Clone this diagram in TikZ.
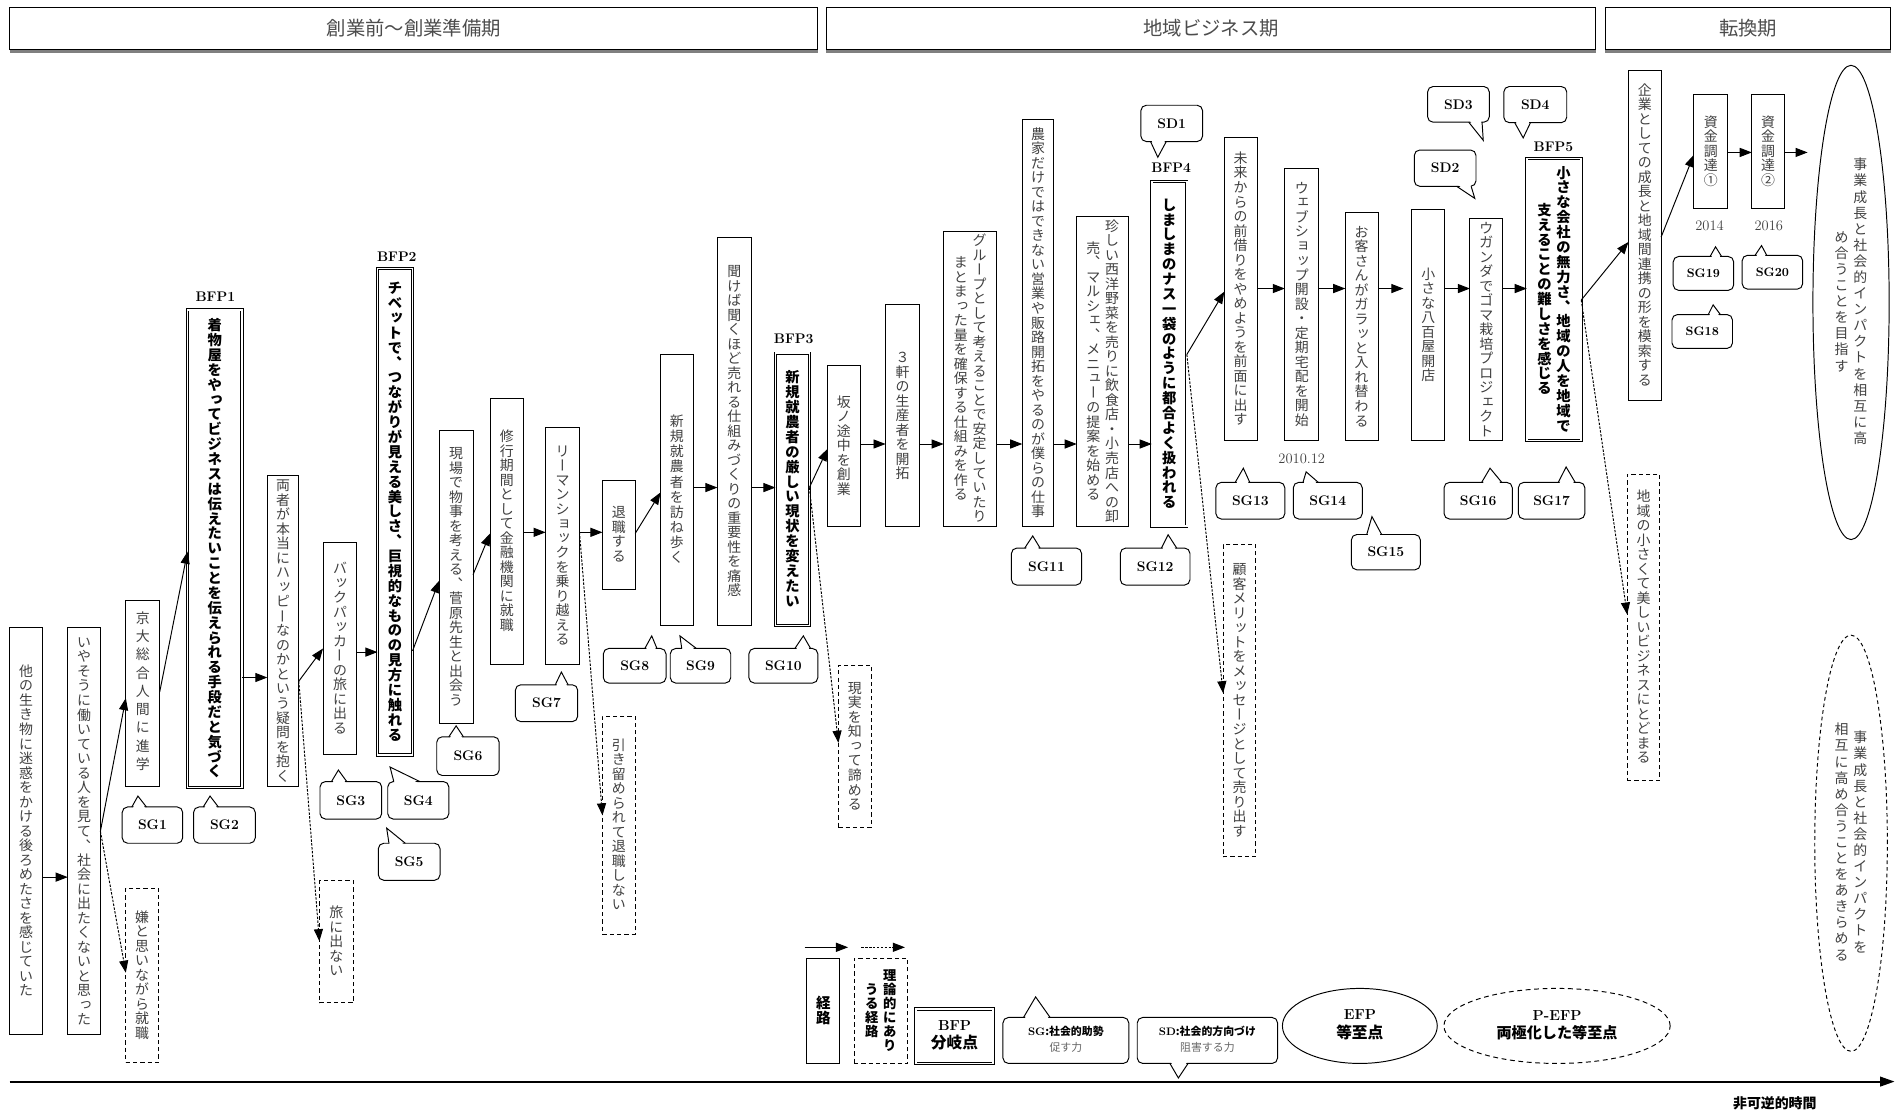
\documentclass[tikz,border=0pt]{standalone}
\usepackage{fontspec}
\usepackage{graphicx}
\usetikzlibrary{arrows.meta,shapes.geometric,calc}
\newfontfamily\jp{Noto Sans CJK JP}
\newfontfamily\tate{Noto Sans CJK JP}
\makeatletter
\newlength\vt@gap
\def\vt@end{\vt@end}
\def\vt@loop#1{\ifx#1\vt@end\else\vt@one{#1}\expandafter\vt@loop\fi}
\def\vt@one#1{\hbox to 1em{\vrule height .88em depth .12em width 0pt\vt@map{#1}}\kern\vt@gap}
\def\vt@bar{\raisebox{.88em}[.88em][.12em]{\rotatebox{-90}{\hbox to 1em{\vrule height .88em depth .12em width 0pt\smash{ー}\hss}}}}
\def\vt@comma{\rotatebox[origin=c]{180}{\hbox to 1em{\vrule height .88em depth .12em width 0pt 、\hss}}}
\def\vt@map#1{\ifx#1ー\vt@bar\else\ifx#1、\vt@comma\else\in@{#1}{ッっョょャゃュゅェぇィぃァぁォぉゥぅ}\ifin@\rlap{\kern.12em\raisebox{.12em}[0pt][0pt]{#1}}\hss\else\hss#1\hss\fi\fi\fi}
\newcommand\vcol[2]{\vbox{\tate\offinterlineskip\setlength\vt@gap{#1}\vt@loop#2\vt@end}}
\newcommand\vt[2][0.5pt]{\vcol{#1}{#2}}
\newcommand\vtt[3][0.5pt]{\hbox{$\vcenter{\vcol{#1}{#3}}$\kern4pt$\vcenter{\vcol{#1}{#2}}$}}
\makeatother
\tikzset{
 box/.style={draw, line width=0.8pt, rectangle, inner sep=0pt, outer sep=0pt, text=black!75, font=\fontsize{11.5}{15}\selectfont},
 bfp/.style={box, double, double distance=1.4pt, line width=0.6pt, text=black, font=\fontsize{11.8}{16}\selectfont\bfseries},
 dbox/.style={box, dash pattern=on 3.5pt off 2.5pt},
 hdr/.style={box, text=black!70, font=\fontsize{16}{18}\selectfont\jp},
 arr/.style={line width=0.8pt, -{Triangle[length=10pt,width=7.5pt]}},
 darr/.style={arr, dash pattern=on 2pt off 1.2pt},
 call/.style={draw, line width=0.8pt, rounded corners=4.5pt, fill=white, inner sep=0pt, font=\fontsize{11.5}{13}\selectfont\bfseries},
 lbl/.style={font=\fontsize{11.5}{13}\selectfont\bfseries, inner sep=0pt},
 yr/.style={font=\fontsize{12}{13}\selectfont, text=black!75, inner sep=0pt},
}
\newcommand\bx[7][box]{\node[#1, minimum width={(#5-#3)*1pt}, minimum height={(#6-#4)*1pt}] (#2) at ({(#3+#5)/2},{(#4+#6)/2}) {#7};}
\newcommand\sg[6]{\node[call, minimum width={(#4-#2)*1pt}, minimum height={(#5-#3)*1pt}] (#1) at ({(#2+#4)/2},{(#3+#5)/2}) {#6};}
\newcommand\ptr[5]{%
 \fill[white] ({#1+0.7},{#3+ifthenelse(#5<#3,1.6,-1.6)}) -- (#4,#5) -- ({#2-0.7},{#3+ifthenelse(#5<#3,1.6,-1.6)}) -- cycle;
 \draw[line width=0.8pt] (#1,#3) -- (#4,#5) -- (#2,#3);}
\begin{document}
\begin{tikzpicture}[x=1pt,y=-1pt]
\useasboundingbox (0,0) rectangle (1568,923);
% headers
\bx[hdr]{h1}{8}{6}{676}{41}{創業前〜創業準備期}
\bx[hdr]{h2}{683}{6}{1319}{41}{地域ビジネス期}
\bx[hdr]{h3}{1327}{6}{1563}{41}{転換期}
\foreach \h in {h1,h2,h3}{\draw[black!50, line width=2pt] ([yshift=-1.4pt]\h.south west) -- ([yshift=-1.4pt]\h.south east);}
% main boxes
\bx{a1}{8}{519}{35}{855}{\vt{他の生き物に迷惑をかける後ろめたさを感じていた}}
\bx{a2}{56}{519}{83}{855}{\vt{いやそうに働いている人を見て、社会に出たくないと思った}}
\bx{a3}{104}{496}{132}{650}{\vt[3.6pt]{京大総合人間に進学}}
\bx[bfp]{b1}{155}{256}{200}{651}{\vt{着物屋をやってビジネスは伝えたいことを伝えられる手段だと気づく}}
\bx{a5}{221}{393}{247}{650}{\vt{両者が本当にハッピーなのかという疑問を抱く}}
\bx{a6}{267}{448}{295}{624}{\vt{バックパッカーの旅に出る}}
\bx[bfp]{b2}{312}{222}{341}{624}{\vt{チベットで、つながりが見える美しさ、巨視的なものの見方に触れる}}
\bx{a8}{363}{356}{391}{598}{\vt{現場で物事を考える、菅原先生と出会う}}
\bx{a9}{405}{329}{433}{549}{\vt{修行期間として金融機関に就職}}
\bx{a10}{451}{353}{479}{549}{\vt{リーマンショックを乗り越える}}
\bx{a11}{498}{397}{525}{487}{\vt{退職する}}
\bx{a12}{546}{293}{573}{517}{\vt[1pt]{新規就農者を訪ね歩く}}
\bx{a13}{593}{196}{621}{517}{\vt{聞けば聞くほど売れる仕組みづくりの重要性を痛感}}
\bx[bfp]{b3}{641}{292}{669}{517}{\vt{新規就農者の厳しい現状を変えたい}}
\bx{a15}{684}{302}{711}{435}{\vt{坂ノ途中を創業}}
\bx{a16}{732}{252}{760}{435}{\vt{３軒の生産者を開拓}}
\bx{a17}{780}{191}{824}{435}{\vtt{グループとして考えることで安定していたり}{まとまった量を確保する仕組みを作る}}
\bx{a18}{845}{99}{871}{435}{\vt{農家だけではできない営業や販路開拓をやるのが僕らの仕事}}
\bx{a19}{890}{179}{933}{435}{\vtt{珍しい西洋野菜を売りに飲食店・小売店への卸}{売、マルシェ、メニューの提案を始める}}
\bx[bfp]{b4}{952}{150}{981}{435}{\vt{しましまのナス一袋のように都合よく扱われる}}
\bx{a21}{1012}{114}{1039}{364}{\vt{未来からの前借りをやめようを前面に出す}}
\bx{a22}{1062}{139}{1090}{364}{\vt{ウェブショップ開設・定期宅配を開始}}
\bx{a23}{1112}{176}{1139}{364}{\vt{お客さんがガラッと入れ替わる}}
\bx{a24}{1167}{173}{1194}{364}{\vt{小さな八百屋開店}}
\bx{a25}{1215}{181}{1242}{364}{\vt{ウガンダでゴマ栽培プロジェクト}}
\bx[bfp]{b5}{1262}{131}{1307}{364}{\vtt{小さな会社の無力さ、地域の人を地域で}{支えることの難しさを感じる}}
\bx{a27}{1346}{58}{1373}{331}{\vt{企業としての成長と地域間連携の形を模索する}}
\bx{a28}{1400}{78}{1428}{172}{\vt{資金調達①}}
\bx{a29}{1448}{78}{1475}{172}{\vt{資金調達②}}
\node[ellipse, draw, line width=0.8pt, inner sep=0pt, minimum width=63pt, minimum height=392pt, text=black!75, font=\fontsize{11.5}{16}\selectfont] (e1) at (1530,250) {\vtt[1.8pt]{事業成長と社会的インパクトを相互に高}{め合うことを目指す}};
\node[ellipse, draw, line width=0.8pt, dash pattern=on 3pt off 2.5pt, inner sep=0pt, minimum width=60pt, minimum height=344pt, text=black!75, font=\fontsize{11.5}{16}\selectfont] (e2) at (1530,697) {\vtt[1.8pt]{事業成長と社会的インパクトを}{相互に高め合うことをあきらめる}};
% dashed boxes
\bx[dbox]{d1}{104}{734}{131}{878}{\vt{嫌と思いながら就職}}
\bx[dbox]{d2}{264}{728}{292}{829}{\vt{旅に出ない}}
\bx[dbox]{d3}{498}{592}{525}{772}{\vt{引き留められて退職しない}}
\bx[dbox]{d4}{693}{550}{720}{684}{\vt{現実を知って諦める}}
\bx[dbox]{d5}{1011}{450}{1038}{708}{\vt{顧客メリットをメッセージとして売り出す}}
\bx[dbox]{d6}{1345}{392}{1372}{645}{\vt{地域の小さくて美しいビジネスにとどまる}}
% labels
\node[lbl] (lb1) at (178,245) {BFP1};
\node[lbl] (lb2) at (328,212) {BFP2};
\node[lbl] (lb3) at (656,280) {BFP3};
\node[lbl] (lb4) at (968,139) {BFP4};
\node[lbl] (lb5) at (1284,121) {BFP5};
\node[yr] (y1) at (1076,379) {2010.12};
\node[yr] (y2) at (1413,187) {2014};
\node[yr] (y3) at (1462,187) {2016};
% connectors
\draw[arr] (a1.east |- 0,725) -- (a2.west |- 0,725);
\draw[arr] (a2.east |- 0,687) -- (a3.west |- 0,577);
\draw[darr] (a2.east |- 0,687) -- (d1.west |- 0,804);
\draw[arr] (a3.east |- 0,572) -- (b1.west |- 0,456);
\draw[arr] (b1.east |- 0,560) -- (a5.west |- 0,560);
\draw[arr] (a5.east |- 0,563) -- (a6.west |- 0,536);
\draw[darr] (a5.east |- 0,563) -- (d2.west |- 0,778);
\draw[arr] (a6.east |- 0,539) -- (b2.west |- 0,539);
\draw[arr] (b2.east |- 0,538) -- (a8.west |- 0,480);
\draw[arr] (a8.east |- 0,475) -- (a9.west |- 0,441);
\draw[arr] (a9.east |- 0,440) -- (a10.west |- 0,440);
\draw[arr] (a10.east |- 0,440) -- (a11.west |- 0,440);
\draw[darr] (a10.east |- 0,440) -- (d3.west |- 0,674);
\draw[arr] (a11.east |- 0,441) -- (a12.west |- 0,407);
\draw[arr] (a12.east |- 0,403) -- (a13.west |- 0,403);
\draw[arr] (a13.east |- 0,403) -- (b3.west |- 0,403);
\draw[arr] (b3.east |- 0,403) -- (a15.west |- 0,371);
\draw[darr] (b3.east |- 0,403) -- (d4.west |- 0,614);
\draw[arr] (a15.east |- 0,367) -- (a16.west |- 0,367);
\draw[arr] (a16.east |- 0,367) -- (a17.west |- 0,367);
\draw[arr] (a17.east |- 0,367) -- (a18.west |- 0,367);
\draw[arr] (a18.east |- 0,367) -- (a19.west |- 0,367);
\draw[arr] (a19.east |- 0,367) -- (b4.west |- 0,367);
\draw[arr] (b4.east |- 0,293) -- (a21.west |- 0,241);
\draw[darr] (b4.east |- 0,293) -- (d5.west |- 0,573);
\draw[arr] (a21.east |- 0,238.5) -- (a22.west |- 0,238.5);
\draw[arr] (a22.east |- 0,238.5) -- (a23.west |- 0,238.5);
\draw[arr, shorten >=7pt] (a23.east |- 0,238.5) -- (a24.west |- 0,238.5);
\draw[arr] (a24.east |- 0,238.5) -- (a25.west |- 0,238.5);
\draw[arr] (a25.east |- 0,238.5) -- (b5.west |- 0,238.5);
\draw[arr] (b5.east |- 0,248) -- (a27.west |- 0,200);
\draw[darr] (b5.east |- 0,248) -- (d6.west |- 0,508);
\draw[arr] (a27.east |- 0,196) -- (a28.west |- 0,128);
\draw[arr] (a28.east |- 0,126) -- (a29.west |- 0,126);
\draw[arr, shorten >=4pt] (a29.east |- 0,126) -- (e1.west |- 0,126);
% SG callouts
\sg{sg1}{101}{667}{151}{697}{SG1}\ptr{109}{121}{667}{114}{658}
\sg{sg2}{160}{667}{211}{697}{SG2}\ptr{168}{180.5}{667}{173.6}{658}
\sg{sg3}{264.5}{646}{315.5}{677}{SG3}\ptr{274}{286.6}{646}{279.7}{636.5}
\sg{sg4}{320.5}{646}{371}{677}{SG4}\ptr{325.5}{347}{646}{322.4}{634}
\sg{sg5}{312.7}{697}{363.7}{727.6}{SG5}\ptr{321.5}{335}{697}{319.6}{684.5}
\sg{sg6}{361}{609}{412.6}{641}{SG6}\ptr{371}{383}{609}{377}{600}
\sg{sg7}{426}{566}{477.5}{596.5}{SG7}\ptr{459}{469.6}{566}{464}{555.5}
\sg{sg8}{498.7}{536}{550.5}{564.6}{SG8}\ptr{533}{543}{536}{538.7}{525.6}
\sg{sg9}{554}{536}{604}{564.6}{SG9}\ptr{563.5}{575.6}{536}{562}{525.6}
\sg{sg10}{619}{536}{676}{564.6}{SG10}\ptr{657}{670}{536}{664}{525.6}
\sg{sg11}{836}{453}{894}{483.6}{SG11}\ptr{847}{859.7}{453}{853.6}{443}
\sg{sg12}{926}{453}{983.6}{483.6}{SG12}\ptr{960}{972.6}{453}{965.5}{442}
\sg{sg13}{1005}{398.7}{1062}{429}{SG13}\ptr{1021}{1033}{398.7}{1027.7}{387}
\sg{sg14}{1069}{398.7}{1126}{429}{SG14}\ptr{1077}{1089.6}{398.7}{1079.6}{390}
\sg{sg15}{1117}{441.8}{1174}{471}{SG15}\ptr{1129.7}{1142}{441.8}{1134}{427}
\sg{sg16}{1193.6}{398.7}{1250}{429}{SG16}\ptr{1224.7}{1241.3}{398.7}{1231.6}{387}
\sg{sg17}{1255}{398.7}{1310}{429}{SG17}\ptr{1288}{1302}{398.7}{1294.5}{386}
\sg{sg19}{1383}{212}{1433}{240}{\fontsize{10.2}{12}\selectfont SG19}\ptr{1413.5}{1423}{212}{1418}{204}
\sg{sg20}{1440}{211}{1490}{239}{\fontsize{10.2}{12}\selectfont SG20}\ptr{1450.7}{1460.3}{211}{1456}{203}
\sg{sg18}{1382}{260}{1432}{288}{\fontsize{10.2}{12}\selectfont SG18}\ptr{1412}{1422}{260}{1416}{252}
% SD callouts
\sg{sd1}{943}{87}{994}{117}{SD1}\ptr{951}{964}{117}{957}{130}
\sg{sd2}{1169}{124}{1220}{154}{SD2}\ptr{1204}{1216}{154}{1219}{164}
\sg{sd3}{1180}{71.5}{1231}{101}{SD3}\ptr{1214}{1225}{101}{1226}{116}
\sg{sd4}{1243}{71.5}{1295}{101.4}{SD4}\ptr{1252}{1265}{101.4}{1259}{114}
% legend
\coordinate (la1) at (665,783); \coordinate (la2) at (701,783);
\draw[arr] (la1) -- (la2);
\coordinate (lb1s) at (712,783); \coordinate (lb2s) at (748,783);
\draw[darr] (lb1s) -- (lb2s);
\bx[box, text=black, font={\fontsize{12}{15}\selectfont\bfseries}]{l1}{667}{792}{694}{879}{\vt{経路}}
\bx[dbox, text=black, font={\fontsize{11}{13}\selectfont\bfseries}]{l2}{706}{792}{750}{879}{\vtt{理論的にあり}{うる経路}}
\bx[bfp, font={\fontsize{12}{14}\selectfont\bfseries}]{l3}{757}{834}{821}{879}{\begin{tabular}{@{}c@{}}BFP\\{\jp\fontsize{13}{14}\selectfont 分岐点}\end{tabular}}
\sg{lsg}{829}{841}{933}{879}{\begin{tabular}{@{}c@{}}{\fontsize{9}{11}\selectfont SG\jp :社会的助勢}\\{\fontsize{9}{11}\selectfont\jp\mdseries\color{black!60}促す力}\end{tabular}}\ptr{846}{868}{841}{856}{824}
\sg{lsd}{940}{841}{1056}{879}{\begin{tabular}{@{}c@{}}{\fontsize{9}{11}\selectfont SD\jp :社会的方向づけ}\\{\fontsize{9}{11}\selectfont\jp\mdseries\color{black!60}阻害する力}\end{tabular}}\ptr{967}{982}{879}{974}{891}
\node[ellipse, draw, line width=0.8pt, inner sep=0pt, minimum width=128pt, minimum height=62pt, font={\fontsize{12}{14}\selectfont\bfseries}] (l6) at (1124,848) {\begin{tabular}{@{}c@{}}EFP\\{\jp\fontsize{13}{14}\selectfont 等至点}\end{tabular}};
\node[ellipse, draw, line width=0.8pt, dash pattern=on 4pt off 3pt, inner sep=0pt, minimum width=187pt, minimum height=62pt, font={\fontsize{12}{14}\selectfont\bfseries}] (l7) at (1287,848) {\begin{tabular}{@{}c@{}}P-EFP\\{\jp\fontsize{12.5}{14}\selectfont 両極化した等至点}\end{tabular}};
% time axis
\coordinate (t0) at (8,894); \coordinate (t1) at (1566,894);
\draw[line width=1.6pt, -{Triangle[length=12pt,width=8pt]}] (t0) -- (t1);
\node[inner sep=0pt, font={\fontsize{11.5}{13}\selectfont\jp\bfseries}] (tl) at (1467,912) {非可逆的時間};
\end{tikzpicture}
\end{document}
